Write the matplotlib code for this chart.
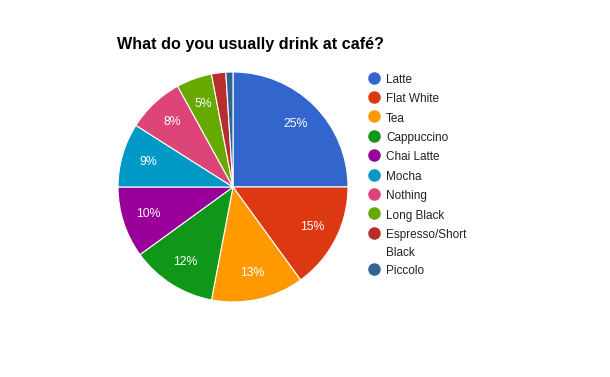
import matplotlib
matplotlib.use("Agg")
import matplotlib.pyplot as plt

plt.rcParams['font.family'] = ['Liberation Sans', 'DejaVu Sans']

categories = ["Latte", "Flat White", "Tea", "Cappuccino", "Chai Latte", "Mocha",
              "Nothing", "Long Black", "Espresso/Short\nBlack", "Piccolo"]
values = [25, 15, 13, 12, 10, 9, 8, 5, 2, 1]
colors = ["#3366cc", "#dc3912", "#ff9900", "#109618", "#990099", "#0099c6",
          "#dd4477", "#66aa00", "#b82e2e", "#316395"]
title = "What do you usually drink at café?"

W, H = 610, 377
fig = plt.figure(figsize=(W / 100, H / 100), dpi=100)
fig.patch.set_facecolor("white")

cx, cy, r = 233, H - 187, 115
ax = fig.add_axes([(cx - r) / W, (cy - r) / H, 2 * r / W, 2 * r / H])

def fmt(p):
    return f"{p:.0f}%" if p >= 4.5 else ""

wedges, texts, autotexts = ax.pie(values, colors=colors, startangle=90, counterclock=False,
                                  autopct=fmt, pctdistance=0.77,
                                  wedgeprops=dict(edgecolor="white", linewidth=0.8),
                                  textprops=dict(color="white", fontsize=8.8))
ax.set_xlim(-1, 1)
ax.set_ylim(-1, 1)
ax.set_aspect("equal")
ax.axis("off")

fig.text(117 / W, 1 - 45 / H, title, fontsize=11.6, fontweight="bold",
         color="black", ha="left", va="center")

# legend drawn in a pixel-coordinate overlay
lax = fig.add_axes([0, 0, 1, 1], zorder=5)
lax.set_xlim(0, W)
lax.set_ylim(H, 0)
lax.axis("off")
y = 77.5
for cat, col in zip(categories, colors):
    lax.plot([374], [y], marker="o", markersize=8, color=col, linestyle="")
    lines = cat.split("\n")
    for k, ln in enumerate(lines):
        lax.text(386, y + 2.2 + k * 18, ln, fontsize=8.5, color="#222222",
                 ha="left", va="center")
    y += 19.4 + (len(lines) - 1) * 17

fig.savefig("out.png", dpi=100, facecolor="white")
